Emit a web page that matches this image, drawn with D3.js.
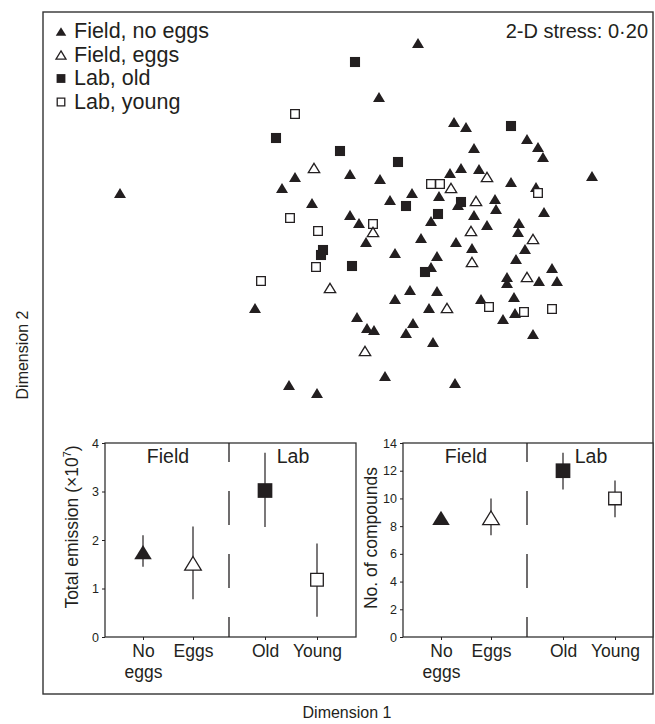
<!DOCTYPE html>
<html>
<head>
<meta charset="utf-8">
<script src="https://cdn.jsdelivr.net/npm/d3@7"></script>
<style>
body { margin: 0; background: #fff; }
text { font-family: "Liberation Sans", Arial, sans-serif; fill: #231f20; }
</style>
</head>
<body>
<div id="chart"></div>
<script>
// NMDS scores [dimension 1, dimension 2] for each group
var fieldNoEggs = [
  [-2.30, 1.57], [0.68, 3.07], [0.29, 2.53], [1.04, 2.28], [1.16, 2.23], [1.24, 2.02],
  [1.77, 2.11], [1.88, 2.03], [1.93, 1.93], [-0.55, 1.73], [-0.68, 1.62], [-0.38, 1.47],
  [0.00, 1.76], [0.30, 1.71], [1.00, 1.77], [1.11, 1.82], [1.29, 1.81], [1.61, 1.68],
  [1.86, 1.63], [2.42, 1.74], [0.62, 1.57], [0.40, 1.50], [0.89, 1.54], [1.08, 1.45],
  [1.45, 1.51], [1.46, 1.41], [1.94, 1.38], [0.00, 1.35], [0.09, 1.27], [0.81, 1.29],
  [1.24, 1.35], [1.37, 1.25], [1.69, 1.27], [1.68, 1.18], [0.16, 1.08], [0.71, 1.12],
  [1.06, 1.08], [1.22, 1.02], [1.75, 1.01], [0.45, 0.97], [0.87, 0.94], [1.66, 0.91],
  [0.81, 0.83], [2.02, 0.82], [1.57, 0.73], [1.57, 0.67], [1.89, 0.69], [2.07, 0.69],
  [-0.95, 0.42], [0.60, 0.60], [0.87, 0.59], [0.45, 0.51], [1.64, 0.53], [1.31, 0.51],
  [0.79, 0.42], [1.65, 0.37], [0.07, 0.33], [0.63, 0.27], [1.53, 0.31], [0.17, 0.22],
  [0.24, 0.20], [0.56, 0.17], [0.83, 0.08], [1.83, 0.16], [0.35, -0.26], [1.05, -0.33],
  [-0.61, -0.35], [-0.33, -0.43]
];
var fieldEggs = [
  [-0.36, 1.82], [1.37, 1.73], [1.01, 1.62], [1.26, 1.49], [0.23, 1.18], [1.21, 1.19],
  [1.83, 1.11], [1.22, 0.88], [-0.20, 0.62], [1.77, 0.73], [0.97, 0.42], [0.15, -0.01]
];
var labOld = [
  [0.05, 2.88], [-0.74, 2.12], [1.61, 2.24], [-0.10, 1.99], [0.48, 1.88], [0.56, 1.44],
  [1.11, 1.48], [0.88, 1.36], [-0.27, 1.00], [-0.29, 0.95], [0.02, 0.84], [0.75, 0.78]
];
var labYoung = [
  [-0.55, 2.36], [-0.60, 1.32], [-0.32, 1.19], [0.23, 1.26], [0.81, 1.66], [0.90, 1.66],
  [1.88, 1.57], [-0.34, 0.83], [-0.89, 0.69], [1.39, 0.43], [1.74, 0.38], [2.02, 0.41]
];
var groupNames = ["Field, no eggs", "Field, eggs", "Lab, old", "Lab, young"];
var stressLabel = "2-D stress: 0\u00b720";

// inset summaries (mean and error bar limits)
var insetCats = ["No eggs", "Eggs", "Old", "Young"];
var emissionMean = [1.75, 1.52, 3.02, 1.18];
var emissionLow = [1.45, 0.78, 2.27, 0.42];
var emissionHigh = [2.10, 2.28, 3.80, 1.93];
var emissionTicks = [0, 1, 2, 3, 4];
var compoundMean = [8.6, 8.6, 12.0, 10.0];
var compoundLow = [8.2, 7.35, 10.65, 8.65];
var compoundHigh = [9.0, 10.0, 13.3, 11.3];
var compoundTicks = [0, 2, 4, 6, 8, 10, 12, 14];
var headers = ["Field", "Lab"];

var ink = "#231f20";
var fontFam = '"Liberation Sans", Arial, sans-serif';
var width = 655, height = 724;
var frame = {left: 43, top: 12, right: 653, bottom: 694};

var svg = d3.select("#chart").append("svg")
    .attr("width", width)
    .attr("height", height);

// marker shapes for d3.symbol, size = width squared
var triangle = {
  draw: function(context, size) {
    var w = Math.sqrt(size), h = w * 0.82;
    context.moveTo(0, -h / 2);
    context.lineTo(w / 2, h / 2);
    context.lineTo(-w / 2, h / 2);
    context.closePath();
  }
};
var square = {
  draw: function(context, size) {
    var s = Math.sqrt(size) / 2;
    context.rect(-s, -s, 2 * s, 2 * s);
  }
};

var markStyle = {
  "Field, no eggs": {type: triangle, filled: true, scale: 1},
  "Field, eggs": {type: triangle, filled: false, scale: 0.95},
  "Lab, old": {type: square, filled: true, scale: 0.84},
  "Lab, young": {type: square, filled: false, scale: 0.72}
};

function styleMark(sel, name, w) {
  var st = markStyle[name];
  var s = w * st.scale;
  sel.attr("d", d3.symbol().type(st.type).size(s * s))
    .attr("fill", st.filled ? ink : "#fff")
    .attr("stroke", st.filled ? "none" : ink)
    .attr("stroke-width", st.filled ? 0 : 1.3);
}

// main ordination frame
var x = d3.scaleLinear().domain([-3.07, 3.03]).range([frame.left, frame.right]);
var y = d3.scaleLinear().domain([-3.44, 3.38]).range([frame.bottom, frame.top]);

svg.append("rect")
    .attr("x", frame.left).attr("y", frame.top)
    .attr("width", frame.right - frame.left)
    .attr("height", frame.bottom - frame.top)
    .attr("fill", "none").attr("stroke", "#333").attr("stroke-width", 1.4);

var drawOrder = [["Field, no eggs", fieldNoEggs], ["Lab, old", labOld],
                 ["Lab, young", labYoung], ["Field, eggs", fieldEggs]];
drawOrder.forEach(function(g) {
  svg.append("g").selectAll("path").data(g[1]).join("path")
      .attr("transform", function(d) { return "translate(" + x(d[0]) + "," + y(d[1]) + ")"; })
      .call(styleMark, g[0], 12);
});

// legend
var legend = svg.append("g").attr("transform", "translate(61,38)");
groupNames.forEach(function(name, i) {
  var row = legend.append("g").attr("transform", "translate(0," + (i * 23.5) + ")");
  row.append("path").attr("transform", "translate(0,-6.5)").call(styleMark, name, 10.5);
  row.append("text").attr("x", 13).attr("font-size", 21.5).text(name);
});

svg.append("text")
    .attr("x", 648).attr("y", 38)
    .attr("text-anchor", "end")
    .attr("font-size", 20)
    .text(stressLabel);

svg.append("text")
    .attr("x", 347).attr("y", 718)
    .attr("text-anchor", "middle")
    .attr("font-size", 16)
    .text("Dimension 1");

svg.append("text")
    .attr("transform", "translate(28,355) rotate(-90)")
    .attr("text-anchor", "middle")
    .attr("font-size", 16)
    .text("Dimension 2");

// inset panels
function drawInset(left, w, means, lows, highs, ticks, yLabel, labelPos) {
  var h = 194;
  var g = svg.append("g").attr("transform", "translate(" + left + ",443)");
  var xi = d3.scaleOrdinal().domain(insetCats).range([38, 88, 160, 212]);
  var yi = d3.scaleLinear().domain([0, d3.max(ticks)]).range([h, 0]);

  g.append("rect").attr("width", w).attr("height", h)
      .attr("fill", "#fff").attr("stroke", "#333").attr("stroke-width", 1.3);

  var ya = g.append("g").call(d3.axisLeft(yi).tickValues(ticks)
      .tickFormat(d3.format("d")).tickSize(3).tickPadding(3));
  ya.select(".domain").remove();
  ya.selectAll("line").attr("stroke", ink);
  ya.selectAll("text").attr("font-size", 12.5).attr("fill", ink)
      .style("font-family", fontFam);

  var xa = g.append("g").attr("transform", "translate(0," + h + ")")
      .call(d3.axisBottom(xi).tickSize(3).tickPadding(5));
  xa.select(".domain").remove();
  xa.selectAll("line").attr("stroke", ink);
  xa.selectAll("text").attr("font-size", 17.5).attr("fill", ink)
      .style("font-family", fontFam)
      .each(function(d) {
        var words = d.split(" ");
        var t = d3.select(this).text(null);
        words.forEach(function(wd, k) {
          t.append("tspan").attr("x", 0).attr("dy", k === 0 ? "0.71em" : "1.2em").text(wd);
        });
      });

  // field / lab divider
  g.append("line")
      .attr("x1", 124).attr("x2", 124).attr("y1", 0).attr("y2", h)
      .attr("stroke", ink).attr("stroke-width", 1.3)
      .attr("stroke-dasharray", "34,29").attr("stroke-dashoffset", 15);

  g.selectAll(".hdr").data(headers).join("text")
      .attr("x", function(d, i) { return i === 0 ? 63 : 188; })
      .attr("y", 20)
      .attr("text-anchor", "middle")
      .attr("font-size", 19.5)
      .text(function(d) { return d; });

  g.selectAll(".bar").data(insetCats).join("line")
      .attr("x1", function(d) { return xi(d); })
      .attr("x2", function(d) { return xi(d); })
      .attr("y1", function(d, i) { return yi(lows[i]); })
      .attr("y2", function(d, i) { return yi(highs[i]); })
      .attr("stroke", ink).attr("stroke-width", 1.2);

  g.selectAll(".mk").data(insetCats).join("path")
      .attr("transform", function(d, i) { return "translate(" + xi(d) + "," + yi(means[i]) + ")"; })
      .each(function(d, i) { d3.select(this).call(styleMark, groupNames[i], 17.5); });

  var lab = g.append("text")
      .attr("transform", "translate(" + labelPos[0] + "," + labelPos[1] + ") rotate(-90)")
      .attr("text-anchor", "middle")
      .attr("font-size", 17.5);
  lab.append("tspan").text(yLabel[0]);
  if (yLabel[1]) {
    lab.append("tspan").attr("font-size", 11).attr("dy", "-0.6em").text(yLabel[1]);
    lab.append("tspan").attr("dy", "0.4em").text(yLabel[2]);
  }
}

drawInset(105, 251, emissionMean, emissionLow, emissionHigh, emissionTicks,
          ["Total emission (\u00d710", "7", ")"], [-27, 84]);
drawInset(403, 250, compoundMean, compoundLow, compoundHigh, compoundTicks,
          ["No. of compounds"], [-26, 95]);
</script>
</body>
</html>
